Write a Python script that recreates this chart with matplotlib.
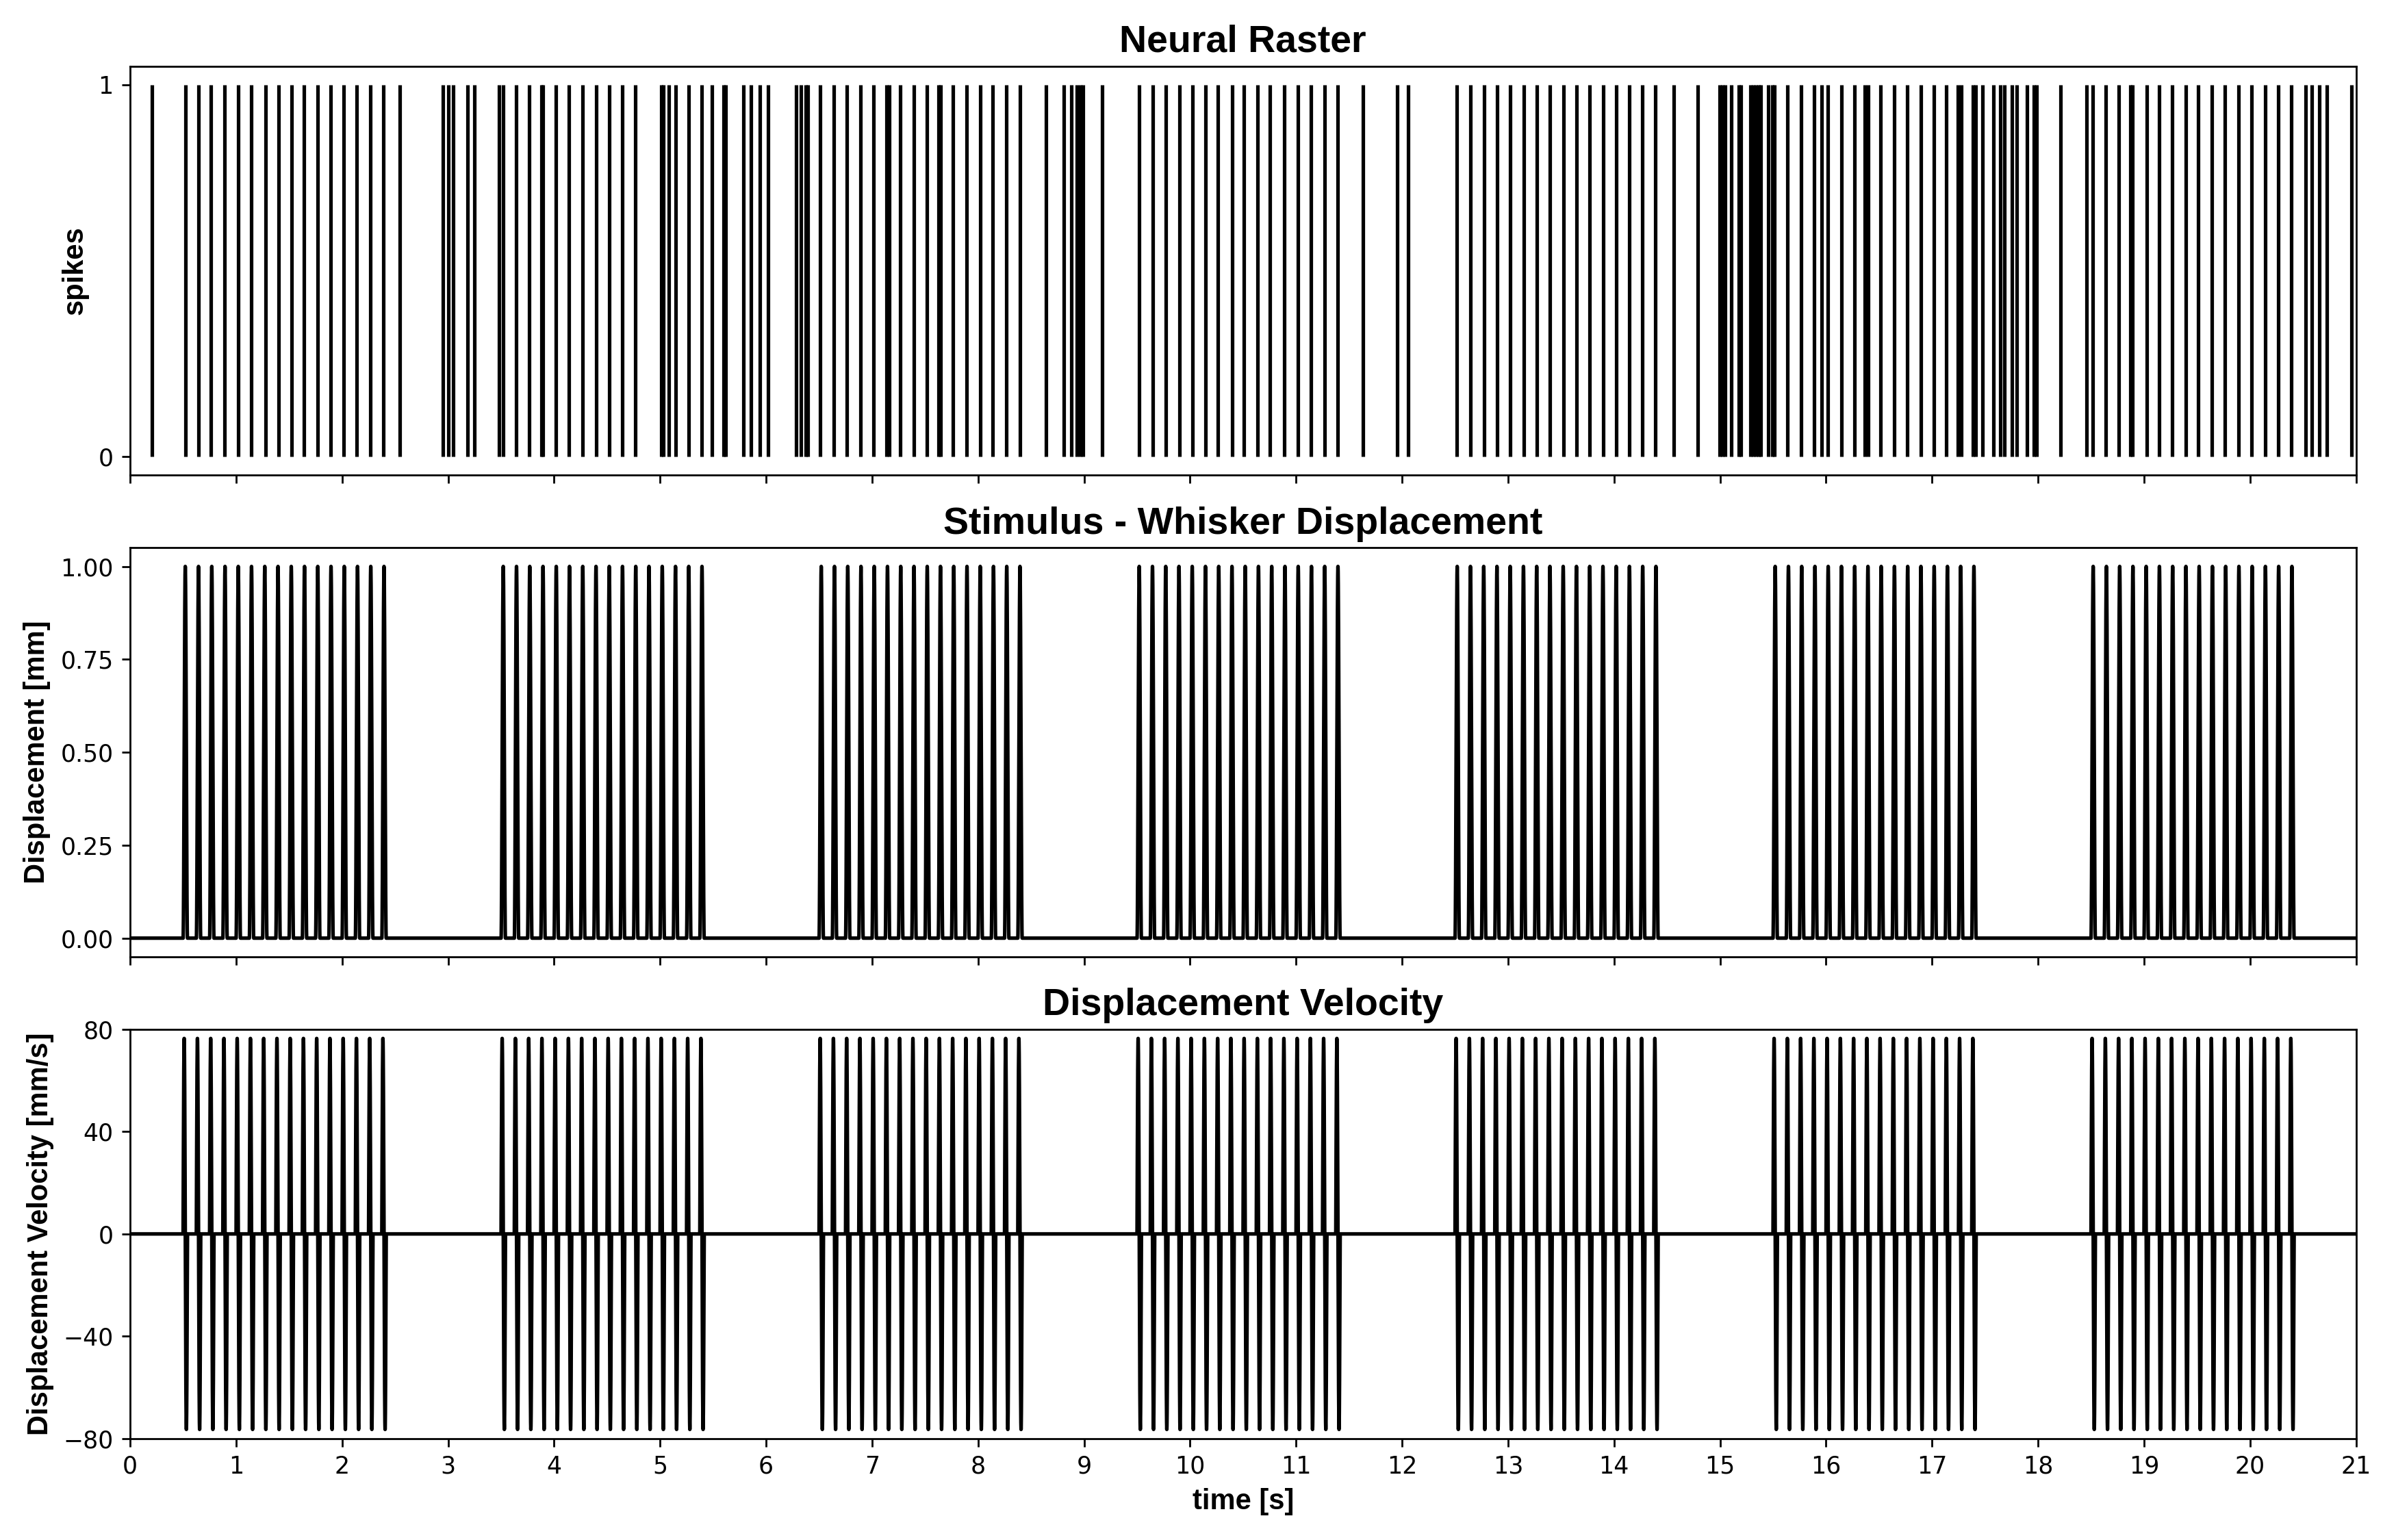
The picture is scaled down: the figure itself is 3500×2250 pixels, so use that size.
import numpy as np
import matplotlib
matplotlib.use("Agg")
import matplotlib.pyplot as plt

# ---------------- data ----------------
spike_times = [
    0.204,
    0.522, 0.644, 0.762, 0.891, 1.022, 1.144, 1.278, 1.402, 1.522, 1.642, 1.771, 1.891, 2.016, 2.140, 2.267, 2.389,
    2.544, 2.953, 3.002, 3.047, 3.182, 3.251,
    3.478, 3.518, 3.644, 3.767, 3.882, 3.892, 4.020, 4.142, 4.269, 4.398, 4.518, 4.642, 4.767,
    5.011, 5.032, 5.082, 5.144, 5.269, 5.393, 5.491, 5.600, 5.621, 5.787, 5.858, 5.942, 6.020,
    6.284, 6.329, 6.373, 6.394,
    6.513, 6.640, 6.762, 6.889, 7.011, 7.138, 7.165, 7.267, 7.392, 7.519, 7.625, 7.645, 7.764, 7.891,
    8.020, 8.138, 8.269, 8.394,
    8.644, 8.806, 8.878, 8.935, 8.964, 8.991, 9.174,
    9.517, 9.646, 9.773, 9.900, 10.022, 10.147, 10.263, 10.396, 10.509, 10.637, 10.755, 10.891,
    11.016, 11.143, 11.268, 11.390,
    11.633, 11.957, 12.059,
    12.514, 12.646, 12.775, 12.897, 13.022, 13.147, 13.272, 13.397, 13.526, 13.647, 13.769, 13.896,
    14.018, 14.143, 14.265, 14.388,
    14.563, 14.788,
    14.994, 15.022, 15.051, 15.107, 15.178, 15.198, 15.290, 15.315, 15.340, 15.362, 15.385, 15.452,
    15.495, 15.515,
    15.639, 15.764, 15.886, 15.962, 16.018, 16.143, 16.267, 16.367, 16.401, 16.512, 16.644, 16.768,
    16.895, 17.016, 17.134, 17.245, 17.276, 17.385, 17.415,
    17.475, 17.580, 17.644, 17.682, 17.756, 17.799, 17.895, 17.960, 17.984,
    18.215, 18.459, 18.516, 18.637, 18.765, 18.870, 18.890, 19.024, 19.145, 19.268, 19.396, 19.508,
    19.643, 19.766, 19.894, 20.013, 20.143, 20.264, 20.387,
    20.527, 20.586, 20.652, 20.723, 20.956,
]

burst_onsets = [0.5, 3.5, 6.5, 9.5, 12.5, 15.5, 18.5]          # s
pulse_offsets = [0.000, 0.125, 0.250, 0.375, 0.500, 0.625, 0.750, 0.875,
                 1.000, 1.125, 1.250, 1.375, 1.500, 1.625, 1.750, 1.875]  # s, within burst
pulse_amplitude = 1.0     # mm
pulse_width = 0.041       # s (raised-cosine deflection)
sample_dt = 0.0005        # s
t_end = 21.0

x_ticks = list(range(0, 22))
vel_ticks = [-80, -40, 0, 40, 80]
disp_ticks = [0.00, 0.25, 0.50, 0.75, 1.00]

# ---------------- stimulus trace ----------------
t = np.arange(0.0, t_end + sample_dt / 2, sample_dt)
disp = np.zeros_like(t)
for b in burst_onsets:
    for o in pulse_offsets:
        t0 = b + o
        m = (t >= t0) & (t <= t0 + pulse_width)
        disp[m] = pulse_amplitude * 0.5 * (1 - np.cos(2 * np.pi * (t[m] - t0) / pulse_width))
vel = np.gradient(disp, t)

# ---------------- figure ----------------
plt.rcParams['font.family'] = ['DejaVu Sans']
LBL = dict(fontweight='bold', fontsize=12, family=['Liberation Sans', 'DejaVu Sans'])
TTL = dict(fontweight='bold', fontsize=16, family=['Liberation Sans', 'DejaVu Sans'])

fig, axes = plt.subplots(3, 1, figsize=(14, 9), dpi=250, sharex=True)
fig.subplots_adjust(left=0.0543, right=0.9833, top=0.957, bottom=0.066, hspace=0.178)

ax = axes[0]
ax.vlines(spike_times, 0, 1, color='black', linewidth=1.5)
ax.set_ylim(-0.05, 1.05)
ax.set_yticks([0, 1])
ax.set_ylabel('spikes', **LBL)
ax.set_title('Neural Raster', **TTL)

ax = axes[1]
ax.plot(t, disp, color='black', linewidth=1.5)
ax.set_yticks(disp_ticks)
ax.set_yticklabels([f'{v:.2f}' for v in disp_ticks])
ax.set_ylabel('Displacement [mm]', **LBL)
ax.set_title('Stimulus - Whisker Displacement', **TTL)

ax = axes[2]
ax.plot(t, vel, color='black', linewidth=1.5)
ax.set_ylim(-80, 80)
ax.set_yticks(vel_ticks)
ax.set_ylabel('Displacement Velocity [mm/s]', **LBL)
ax.set_title('Displacement Velocity', **TTL)
ax.set_xlabel('time [s]', **LBL)

ax.set_xlim(0, 21)
ax.set_xticks(x_ticks)

fig.savefig('out.png', dpi=250)
